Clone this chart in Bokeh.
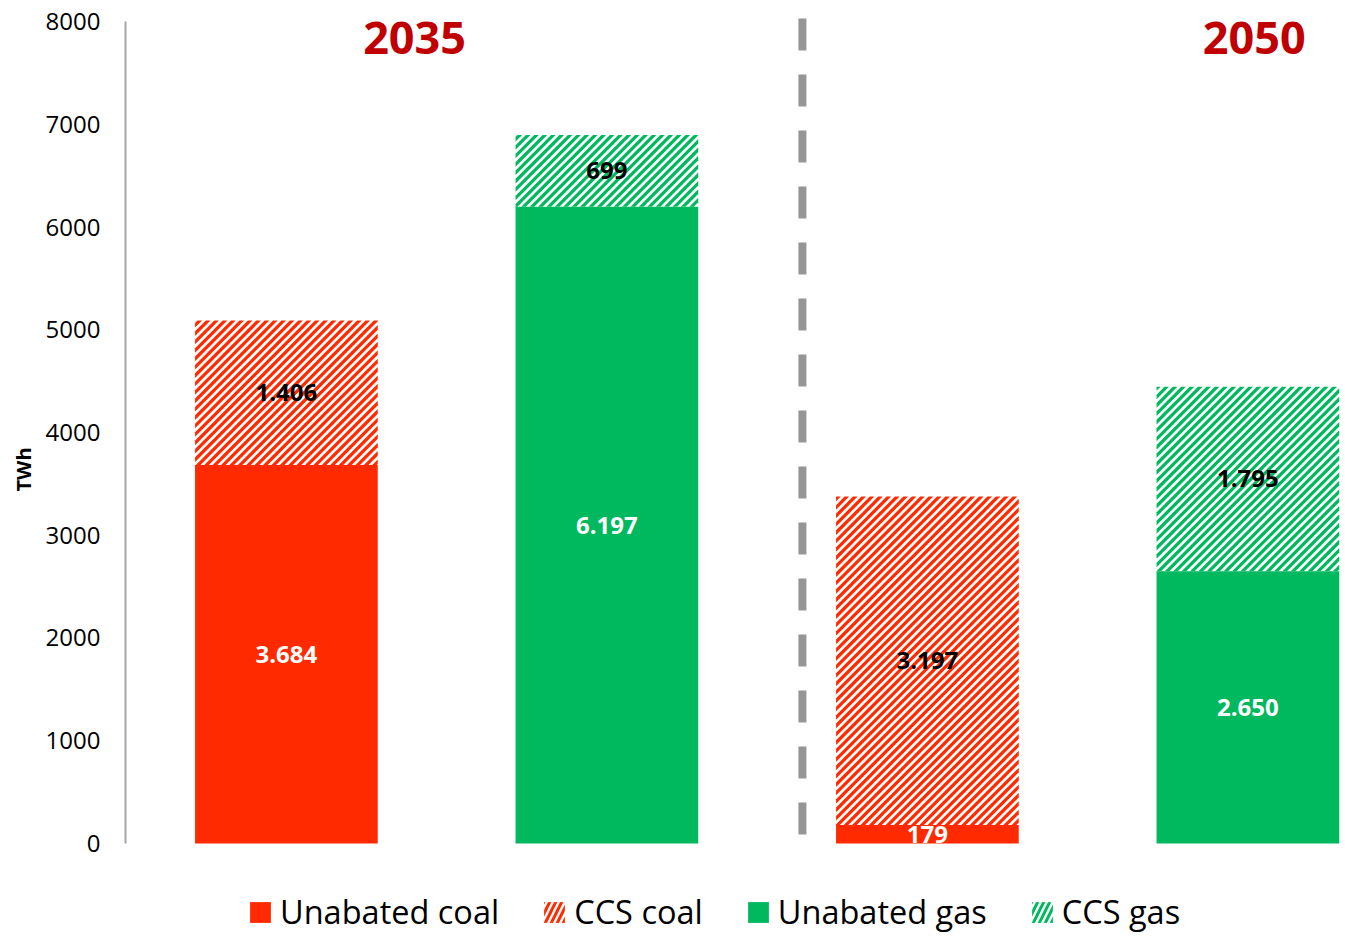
import math
from bokeh.plotting import figure
from bokeh.models import Range1d, FixedTicker, Legend, LegendItem, ColumnDataSource
from bokeh.core.properties import value
from bokeh.embed import file_html
from bokeh.resources import INLINE

# ---- data ----
coal_x = [1, 3]
gas_x = [2, 4]
unabated_coal = [3684, 179]
ccs_coal = [1406, 3197]
unabated_gas = [6197, 2650]
ccs_gas = [699, 1795]
years = ["2035", "2050"]
y_ticks = [0, 1000, 2000, 3000, 4000, 5000, 6000, 7000, 8000]
series_names = ["Unabated coal", "CCS coal", "Unabated gas", "CCS gas"]

RED = "#FF2A00"
GREEN = "#00B95F"
DARKRED = "#C00000"
FONT = "Open Sans"

def fmt(v):
    return f"{v:,}".replace(",", ".")

# ---- layout constants ----
W, H = 1345, 938
LEFT = 125
X0, X1 = 0.498, 4.3045
Y0, Y1 = -924.6, 8204.4
FW, FH = W - LEFT, H
SX = FW / (X1 - X0)
SY = FH / (Y1 - Y0)
BW = 0.57
PERIOD = 8.4     # px, horizontal period of the 45 degree stripes
STRIPE = 4.6     # px, vertical thickness of a coloured stripe

p = figure(width=W, height=H, output_backend="svg", toolbar_location=None,
           x_range=Range1d(X0, X1), y_range=Range1d(Y0, Y1),
           x_axis_location=None, min_border_left=LEFT, min_border_right=0,
           min_border_top=0, min_border_bottom=0)
p.outline_line_color = None
p.xgrid.visible = False
p.ygrid.visible = False
p.background_fill_color = "white"
p.border_fill_color = "white"


def clip(poly, f):
    out = []
    n = len(poly)
    for i in range(n):
        P, Q = poly[i], poly[(i + 1) % n]
        fp, fq = f(P), f(Q)
        if fp >= 0:
            out.append(P)
        if (fp >= 0) != (fq >= 0):
            t = fp / (fp - fq)
            out.append((P[0] + t * (Q[0] - P[0]), P[1] + t * (Q[1] - P[1])))
    return out


def stripes(xs, bottoms, heights):
    """45-degree '/' stripes inside each bar, computed in screen space."""
    pxs, pys = [], []
    for x, b, h in zip(xs, bottoms, heights):
        u0, u1 = (x - BW / 2 - X0) * SX, (x + BW / 2 - X0) * SX
        v0, v1 = (b - Y0) * SY, (b + h - Y0) * SY
        rect = [(u0, v0), (u1, v0), (u1, v1), (u0, v1)]
        c = math.floor((v0 - u1) / PERIOD) * PERIOD - STRIPE
        while c <= v1 - u0:
            poly = clip(rect, lambda q, c=c: (q[1] - q[0]) - c)
            poly = clip(poly, lambda q, c=c: (c + STRIPE) - (q[1] - q[0]))
            if len(poly) >= 3:
                pxs.append([q[0] / SX + X0 for q in poly])
                pys.append([q[1] / SY + Y0 for q in poly])
            c += PERIOD
    return pxs, pys


# coal
r_uc = p.vbar(x=coal_x, width=BW, bottom=0, top=unabated_coal, fill_color=RED, line_color=None)
sx_, sy_ = stripes(coal_x, unabated_coal, ccs_coal)
p.patches(sx_, sy_, fill_color=RED, line_color=None)
# gas
r_ug = p.vbar(x=gas_x, width=BW, bottom=0, top=unabated_gas, fill_color=GREEN, line_color=None)
sx_, sy_ = stripes(gas_x, unabated_gas, ccs_gas)
p.patches(sx_, sy_, fill_color=GREEN, line_color=None)

# legend-only glyphs for the hatched series (placed outside the visible range)
OFF = X0 - 10
r_cc = p.vbar(x=[OFF], width=BW, bottom=[0], top=[ccs_coal[0]], fill_color="white", line_color=None,
              hatch_pattern="/", hatch_color=RED, hatch_scale=12, hatch_weight=3)
r_cg = p.vbar(x=[OFF], width=BW, bottom=[0], top=[ccs_gas[0]], fill_color="white", line_color=None,
              hatch_pattern="/", hatch_color=GREEN, hatch_scale=12, hatch_weight=3)


def add_labels(xs, bottoms, vals, color):
    ys = [b + v / 2 for b, v in zip(bottoms, vals)]
    src = ColumnDataSource(dict(x=xs, y=ys, t=[fmt(v) for v in vals]))
    p.text(x="x", y="y", text="t", source=src, text_align="center", text_baseline="middle",
           text_font=value(FONT), text_font_style="bold", text_font_size="24px", text_color=color)


add_labels(coal_x, [0, 0], unabated_coal, "white")
add_labels(coal_x, unabated_coal, ccs_coal, "black")
add_labels(gas_x, [0, 0], unabated_gas, "white")
add_labels(gas_x, unabated_gas, ccs_gas, "black")

# divider between the two years
DIV_X = 2.61
p.segment(x0=[DIV_X], y0=[8030], x1=[DIV_X], y1=[80], line_color="#969696",
          line_width=8, line_dash="32 24")

# year titles
p.text(x=[1.40, 4.02], y=[7835, 7835], text=years, text_align="center", text_baseline="middle",
       text_font=value(FONT), text_font_style="bold", text_font_size="45px", text_color=DARKRED)

ax = p.yaxis[0]
ax.bounds = (0, 8000)
ax.ticker = FixedTicker(ticks=y_ticks)
ax.major_tick_line_color = None
ax.minor_tick_line_color = None
ax.major_tick_out = 0
ax.major_tick_in = 0
ax.minor_tick_out = 0
ax.minor_tick_in = 0
ax.axis_line_color = "#A6A6A6"
ax.axis_line_width = 2
ax.major_label_standoff = 25
ax.major_label_text_font = FONT
ax.major_label_text_font_size = "24px"
ax.major_label_text_color = "black"
ax.axis_label = "TWh"
ax.axis_label_text_font = FONT
ax.axis_label_text_font_style = "bold"
ax.axis_label_text_font_size = "20px"
ax.axis_label_text_color = "black"
ax.axis_label_standoff = 6

legend = Legend(items=[LegendItem(label=series_names[0], renderers=[r_uc], index=0),
                       LegendItem(label=series_names[1], renderers=[r_cc], index=0),
                       LegendItem(label=series_names[2], renderers=[r_ug], index=0),
                       LegendItem(label=series_names[3], renderers=[r_cg], index=0)],
                orientation="horizontal", location=(122, 4))
legend.label_text_font = FONT
legend.label_text_font_size = "32.5px"
legend.label_text_color = "black"
legend.glyph_width = 26
legend.glyph_height = 26
legend.label_standoff = 7
legend.spacing = 42
legend.padding = 0
legend.margin = 0
legend.border_line_color = None
legend.background_fill_alpha = 0
p.add_layout(legend, "center")

open("out.html", "w").write(file_html(p, INLINE))
